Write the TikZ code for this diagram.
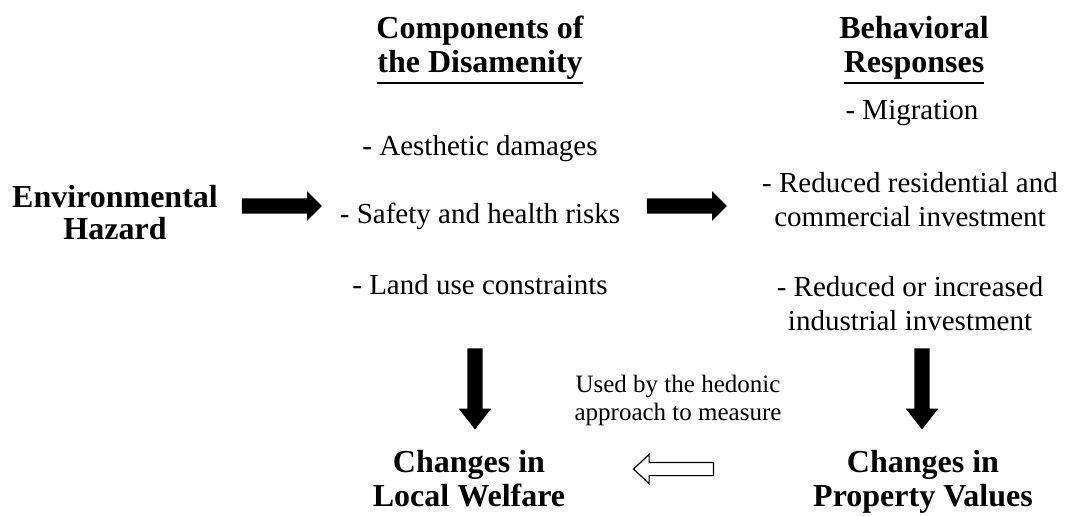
\documentclass[tikz,border=0pt]{standalone}
\usepackage{fontspec}
\setmainfont{Liberation Serif}
\usetikzlibrary{shapes.arrows}

\tikzset{
  head/.style={font=\fontsize{32}{34}\selectfont\bfseries, align=center, inner sep=0pt, anchor=base},
  item/.style={font=\fontsize{29}{34}\selectfont, align=center, inner sep=0pt, anchor=base},
  note/.style={font=\fontsize{25}{28}\selectfont, align=center, inner sep=0pt, anchor=base},
  blockarrow/.style={single arrow, fill=black, inner sep=0pt, inner ysep=7.5pt,
    single arrow head extend=7pt, single arrow tip angle=90, minimum height=80pt},
  downarrow/.style={blockarrow, rotate=-90, single arrow head extend=8.5pt,
    single arrow tip angle=76, minimum height=81pt},
  hollowarrow/.style={single arrow, draw, line width=1.2pt, fill=white, inner sep=0pt,
    inner ysep=6pt, single arrow head extend=8pt, single arrow tip angle=86,
    minimum height=80pt, rotate=180}
}

\begin{document}
\begin{tikzpicture}[x=1pt, y=-1pt]
\useasboundingbox (0,0) rectangle (1068,516);

% left (base = last line)
\node[head, font=\fontsize{32}{32}\selectfont\bfseries] (hazard) at (115,239) {Environmental\\Hazard};

% middle column
\node[head] (comp) at (480,39) {Components of};
\node[head] (disam) at (480,73) {the Disamenity};
\draw[line width=2.5pt] ([yshift=-3pt]disam.south west) -- ([yshift=-3pt]disam.south east);

\node[item] (aesth) at (480,156) {- Aesthetic damages};
\node[item] (safety) at (480,223) {- Safety and health risks};
\node[item] (landuse) at (480,294) {- Land use constraints};

% right column
\node[head] (behav) at (914,39) {Behavioral};
\node[head] (resp) at (914,73) {Responses};
\draw[line width=2.5pt] ([yshift=-3pt]resp.south west) -- ([yshift=-3pt]resp.south east);

\node[item] (migr) at (912,120) {- Migration};
\node[item] (resid) at (910,226) {- Reduced residential and\\commercial investment};
\node[item] (indus) at (910,330) {- Reduced or increased\\industrial investment};

% bottom
\node[head] (welfare) at (469,506) {Changes in\\Local Welfare};
\node[head] (propval) at (923,506) {Changes in\\Property Values};
\node[note] (hedonic) at (678,420) {Used by the hedonic\\approach to measure};

% arrows
\node[blockarrow] (arrA) at (278,206) {};
\node[blockarrow] (arrB) at (683,206) {};
\node[downarrow] (arrC) at (475,384) {};
\node[downarrow] (arrD) at (922,384) {};
\node[hollowarrow] (arrE) at (677,469) {};
\end{tikzpicture}
\end{document}
